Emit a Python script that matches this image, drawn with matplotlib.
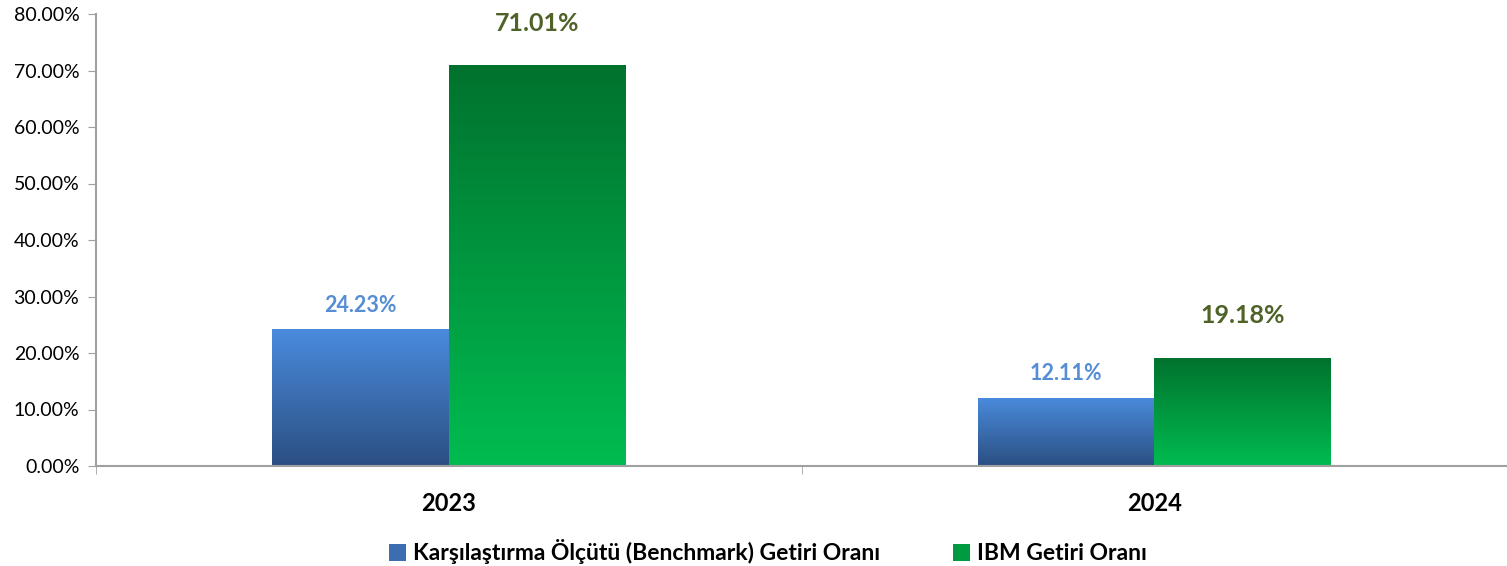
import numpy as np
import matplotlib
matplotlib.use("Agg")
import matplotlib.pyplot as plt
from matplotlib.colors import LinearSegmentedColormap
from matplotlib.patches import Patch

plt.rcParams["font.family"] = ["Lato", "DejaVu Sans"]

years = ["2023", "2024"]
benchmark = [24.23, 12.11]
ibm = [71.01, 19.18]
series_names = ["Karşılaştırma Ölçütü (Benchmark) Getiri Oranı", "IBM Getiri Oranı"]

blue_cmap = LinearSegmentedColormap.from_list("blue", ["#2B4F82", "#4A8BDD"])
green_cmap = LinearSegmentedColormap.from_list("green", ["#00BC50", "#00722E"])


def gradient_bars(ax, xs, heights, width, cmap):
    bars = ax.bar(xs, heights, width=width, color="none", edgecolor="none", zorder=2)
    grad = np.linspace(0, 1, 256).reshape(-1, 1)
    for b in bars:
        x0, y0 = b.get_x(), b.get_y()
        w, h = b.get_width(), b.get_height()
        im = ax.imshow(grad, cmap=cmap, origin="lower", aspect="auto",
                       extent=(x0, x0 + w, y0, y0 + h), zorder=2)
        im.set_clip_path(b)
    return bars


fig = plt.figure(figsize=(15.07, 5.66), dpi=100)
ax = fig.add_axes([96 / 1507, 100 / 566, 1411 / 1507, 452 / 566])

x = np.arange(len(years))
w = 0.25
gradient_bars(ax, x - w / 2, benchmark, w, blue_cmap)
gradient_bars(ax, x + w / 2, ibm, w, green_cmap)

for xi, v in zip(x - w / 2, benchmark):
    ax.annotate(f"{v:.2f}%", (xi, v), xytext=(0, 17), textcoords="offset points",
                ha="center", va="center", fontsize=15.5, fontweight="bold", color="#558ED5")
for xi, v in zip(x + w / 2, ibm):
    ax.annotate(f"{v:.2f}%", (xi, v), xytext=(0, 30), textcoords="offset points",
                ha="center", va="center", fontsize=18, fontweight="bold", color="#4F6228")

ax.set_xlim(-0.5, 1.5)
ax.set_ylim(0, 80)
ax.set_yticks(np.arange(0, 81, 10))
ax.set_yticklabels([f"{t:.2f}%" for t in np.arange(0, 81, 10)], fontsize=14)
ax.set_xticks(x)
ax.set_xticklabels(years, fontsize=17, fontweight="bold")
ax.set_xticks([-0.5, 0.5, 1.5], minor=True)
ax.tick_params(axis="x", which="major", length=0, pad=19)
ax.tick_params(axis="x", which="minor", length=6, color="#A0A0A0")
ax.tick_params(axis="y", length=6, color="#A0A0A0", pad=6)

for s in ["top", "right"]:
    ax.spines[s].set_visible(False)
for s in ["left", "bottom"]:
    ax.spines[s].set_color("#A0A0A0")
    ax.spines[s].set_linewidth(1.5)
ax.spines["bottom"].set_zorder(3)

handles = [Patch(facecolor="#3C6DB0"), Patch(facecolor="#009A40")]
fig.legend(handles, series_names, loc="center", bbox_to_anchor=(768 / 1507, 1 - 552 / 566),
           ncol=2, frameon=False, handlelength=0.75, handleheight=0.75, handletextpad=0.3,
           columnspacing=3.2, prop={"size": 16.5, "weight": "bold"})

fig.savefig("out.png", dpi=100)
